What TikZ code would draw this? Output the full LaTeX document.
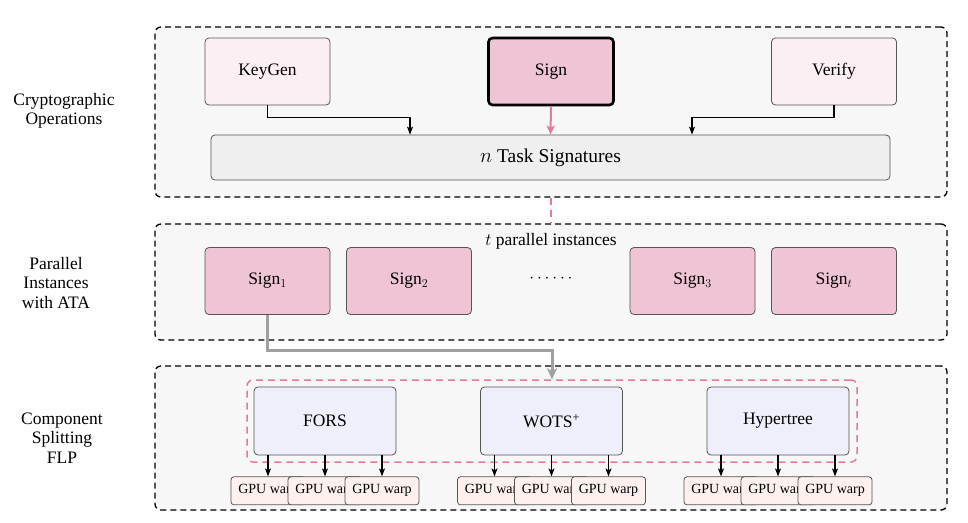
\documentclass[tikz,border=0pt]{standalone}
\usepackage{fontspec}
\setmainfont{Liberation Serif}
\usetikzlibrary{arrows.meta}
\definecolor{panelfill}{HTML}{F7F7F7}
\definecolor{lightpink}{HTML}{FBEFF3}
\definecolor{signpink}{HTML}{EFC4D4}
\definecolor{taskgray}{HTML}{EFEFEF}
\definecolor{accpink}{HTML}{E07A9E}
\definecolor{compfill}{HTML}{EFEFFB}
\definecolor{gpufill}{HTML}{FDF0EF}
\definecolor{grayarrow}{HTML}{A0A0A0}
\definecolor{edgegray}{HTML}{555555}
\tikzset{
  panel/.style={draw=black, line width=1.3pt, dash pattern=on 6pt off 4pt, fill=panelfill, rounded corners=6pt, minimum width=792pt, inner sep=0pt},
  opbox/.style={draw=edgegray, line width=0.8pt, rounded corners=4pt, minimum width=125pt, minimum height=67pt, inner sep=0pt, font=\fontsize{17.5}{20}\selectfont},
  compbox/.style={draw=edgegray, line width=0.8pt, rounded corners=4pt, fill=compfill, minimum width=142pt, minimum height=68pt, inner sep=0pt, font=\fontsize{17.5}{20}\selectfont},
  gpubox/.style={draw=edgegray, line width=0.8pt, rounded corners=3pt, fill=gpufill, minimum width=74pt, minimum height=28pt, inner sep=0pt, font=\fontsize{14}{16}\selectfont},
  lbl/.style={align=center, font=\fontsize{17.5}{19.5}\selectfont},
  arr/.style={draw=black, line width=1.1pt, -{Stealth[length=8pt,width=6pt,inset=2pt]}},
}
\begin{document}
\begin{tikzpicture}[x=1pt,y=-1pt]
\useasboundingbox (0,0) rectangle (968,522);
% panels
\node[panel, minimum height=170pt] (p1) at (551,112) {};
\node[panel, minimum height=116pt] (p2) at (551,282) {};
\node[panel, minimum height=144pt] (p3) at (551,438) {};
% left labels
\node[lbl] (lab1) at (64,111) {Cryptographic\\Operations};
\node[lbl] (lab2) at (56,283) {Parallel\\Instances\\with ATA};
\node[lbl] (lab3) at (62,438) {Component\\Splitting\\FLP};
% panel 1
\node[opbox, fill=lightpink] (keygen) at (267.5,71.5) {KeyGen};
\node[opbox, fill=signpink, draw=black, line width=2.6pt] (sign) at (551,71.5) {Sign};
\node[opbox, fill=lightpink] (verify) at (834,71.5) {Verify};
\node[draw=edgegray, line width=0.8pt, rounded corners=4pt, fill=taskgray, minimum width=679pt, minimum height=45pt, inner sep=0pt, font=\fontsize{19.5}{22}\selectfont] (task) at (550.5,157.5) {$n$ Task Signatures};
\draw[arr] (keygen.south) -- ++(0,12) -| ([xshift=-140.5pt]task.north);
\draw[arr] (verify.south) -- ++(0,12) -| ([xshift=141.5pt]task.north);
\draw[draw=accpink, line width=2pt, -{Stealth[length=9pt,width=8pt,inset=2pt]}] (sign.south) -- (task.north);
\draw[draw=accpink, line width=2.2pt, dash pattern=on 7pt off 5pt] (p1.south -| sign) -- (p2.north -| sign);
% panel 2
\node[font=\fontsize{17.5}{20}\selectfont] (tpi) at (551,241) {$t$ parallel instances};
\node[opbox, fill=signpink] (s1) at (267.5,281) {Sign$_1$};
\node[opbox, fill=signpink] (s2) at (409,281) {Sign$_2$};
\node[font=\fontsize{17.5}{20}\selectfont] (dots) at (551,279) {$\cdots\cdots$};
\node[opbox, fill=signpink] (s3) at (692.5,281) {Sign$_3$};
\node[opbox, fill=signpink] (st) at (834,281) {Sign$_t$};
% panel 3
\node[draw=accpink, line width=1.5pt, dash pattern=on 7pt off 5pt, rounded corners=6pt, minimum width=610pt, minimum height=82pt, inner sep=0pt] (split) at (552,421) {};
\draw[draw=grayarrow, line width=3pt, -{Stealth[length=11pt,width=10pt,inset=3pt]}] (s1.south) -- ++(0,36) -| (split.north);
\node[compbox] (fors) at (325,421) {FORS};
\node[compbox] (wots) at (551.5,421) {WOTS\textsuperscript{+}};
\node[compbox] (hyper) at (778,421) {Hypertree};
\foreach \c/\n in {fors/f, wots/w, hyper/h}{
  \foreach \i/\dx in {1/-57, 2/0, 3/57}{
    \node[gpubox, anchor=north] (\n\i) at ([xshift=\dx pt, yshift=-21pt]\c.south) {GPU warp};
  }
  \foreach \i in {1,2,3}{
    \draw[arr] (\c.south -| \n\i.north) -- (\n\i.north);
  }
}
\end{tikzpicture}
\end{document}
